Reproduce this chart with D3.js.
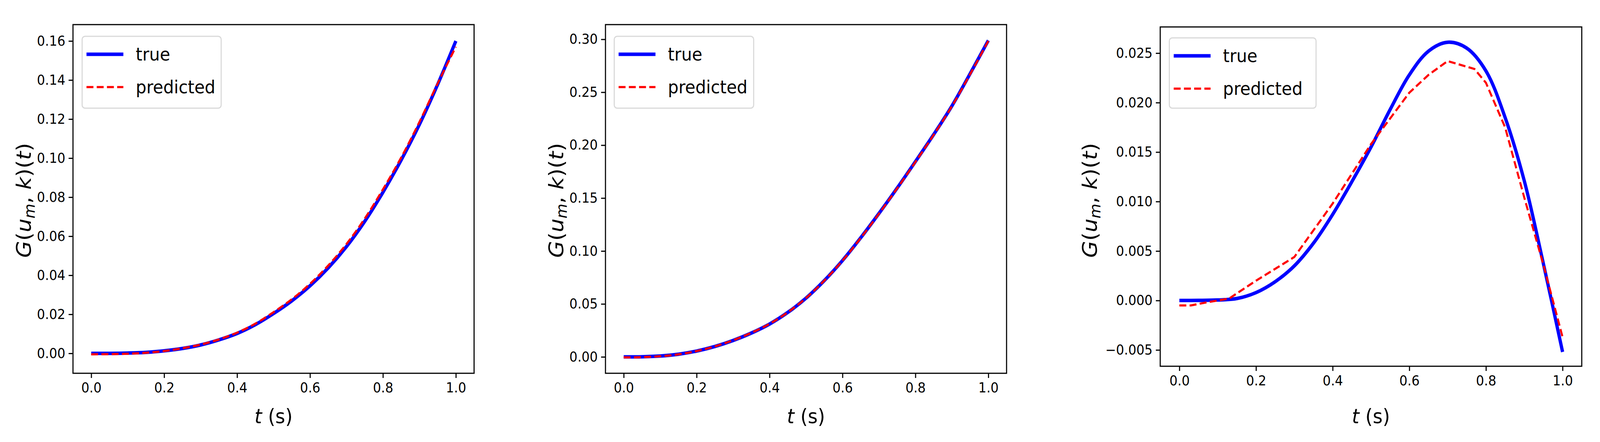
<!DOCTYPE html>
<html><head><meta charset="utf-8">
<script src="https://cdn.jsdelivr.net/npm/d3@7"></script>
<style>html,body{margin:0;padding:0;background:#fff;overflow:hidden}svg{display:block;width:100vw;height:100vh}text{font-family:"DejaVu Sans",sans-serif}</style>
</head><body><svg id="c" viewBox="0 0 4384 1132" preserveAspectRatio="none"></svg>
<script>
const seriesNames = ["true", "predicted"];
const xTicks = [0.0, 0.2, 0.4, 0.6, 0.8, 1.0];
const t = [0,0.05,0.1,0.15,0.2,0.25,0.3,0.35,0.4,0.45,0.5,0.55,0.6,0.65,0.7,0.75,0.8,0.85,0.9,0.95,1.0];

const true1 = [0,0.00002,0.00016,0.0005,0.0013,0.0025,0.0043,0.0069,0.0102,0.0147,0.0204,0.0269,0.0346,0.0438,0.0547,0.0676,0.0825,0.0990,0.1172,0.1377,0.1600];
const pred1 = [-0.0005,-0.0004,-0.0002,0.0003,0.0012,0.0026,0.0045,0.0071,0.0106,0.0152,0.0211,0.0277,0.0356,0.0450,0.0560,0.0690,0.0840,0.1003,0.1185,0.1382,0.1570];
const yTicks1 = [0.00,0.02,0.04,0.06,0.08,0.10,0.12,0.14,0.16];

const true2 = [0,0.0001,0.0008,0.0025,0.0055,0.0098,0.0155,0.0225,0.0310,0.0420,0.0555,0.0720,0.0910,0.1125,0.1355,0.1595,0.1845,0.2100,0.2370,0.2675,0.2990];
const pred2 = [-0.0005,-0.0003,0.0006,0.0024,0.0055,0.0099,0.0157,0.0227,0.0312,0.0421,0.0556,0.0720,0.0909,0.1123,0.1352,0.1592,0.1841,0.2097,0.2367,0.2670,0.2985];
const yTicks2 = [0.00,0.05,0.10,0.15,0.20,0.25,0.30];

const true3 = [0,0.00001,0.00005,0.0002,0.0008,0.0019,0.0035,0.0058,0.0087,0.0120,0.0155,0.0193,0.0228,0.0252,0.0261,0.0255,0.0232,0.0185,0.0121,0.0037,-0.0052];
const tPred3 = [0,0.03,0.07,0.13,0.2,0.3,0.4,0.5,0.6,0.65,0.7,0.77,0.8,0.85,0.9,0.95,1.0];
const pred3 = [-0.0005,-0.0005,-0.0002,0.0002,0.0020,0.0044,0.0098,0.0158,0.0210,0.0228,0.0242,0.0234,0.0220,0.0175,0.0104,0.0036,-0.0037];
const yTicks3 = [-0.005,0.000,0.005,0.010,0.015,0.020,0.025];

const panels = [
  {tt:t, tr:true1, tp:t, pr:pred1, yt:yTicks1, fmt:".2f", x0:200, x1:1299, y0:63, y1:956, xd:[-0.05,1.05], yd:[-0.0102,0.1684], ylx:67, lg:[225,93,606,277], lin:false},
  {tt:t, tr:true2, tp:t, pr:pred2, yt:yTicks2, fmt:".2f", x0:1659, x1:2758, y0:63, y1:956, xd:[-0.05,1.05], yd:[-0.0155,0.3139], ylx:1525, lg:[1683,93,2065,277], lin:false},
  {tt:t, tr:true3, tp:tPred3, pr:pred3, yt:yTicks3, fmt:".3f", x0:3179, x1:4334, y0:69, y1:938, xd:[-0.05,1.05], yd:[(769.6-938)/25340, (769.6-69)/25340], ylx:2987, lg:[3204,97,3606,277], lin:true}
];

const svg = d3.select("#c");
panels.forEach(p => {
  const x = d3.scaleLinear().domain(p.xd).range([p.x0,p.x1]);
  const y = d3.scaleLinear().domain(p.yd).range([p.y1,p.y0]);
  const g = svg.append("g");
  const xa = g.append("g").attr("transform",`translate(0,${p.y1})`)
    .call(d3.axisBottom(x).tickValues(xTicks).tickFormat(d3.format(".1f")).tickSize(12).tickPadding(12));
  const ya = g.append("g").attr("transform",`translate(${p.x0},0)`)
    .call(d3.axisLeft(y).tickValues(p.yt).tickFormat(v => d3.format(p.fmt)(v).replace("-","\u2212")).tickSize(12).tickPadding(9));
  [xa,ya].forEach(a=>{a.select(".domain").remove();a.selectAll("line").attr("stroke","#000").attr("stroke-width",3);
    a.selectAll("text").attr("font-size",35).attr("fill","#000");});
  const line = d3.line().x(d=>x(d[0])).y(d=>y(d[1])).curve(d3.curveCatmullRom);
  g.append("path").datum(p.tt.map((v,i)=>[v,p.tr[i]])).attr("d",line)
    .attr("fill","none").attr("stroke","#0000ff").attr("stroke-width",9);
  const pline = d3.line().x(d=>x(d[0])).y(d=>y(d[1])).curve(p.lin?d3.curveLinear:d3.curveCatmullRom);
  g.append("path").datum(p.tp.map((v,i)=>[v,p.pr[i]])).attr("d",pline)
    .attr("fill","none").attr("stroke","#ff0000").attr("stroke-width",5.5).attr("stroke-dasharray","19,9");
  g.append("rect").attr("x",p.x0).attr("y",p.y0).attr("width",p.x1-p.x0).attr("height",p.y1-p.y0)
    .attr("fill","none").attr("stroke","#000").attr("stroke-width",3);
  const [lx0,ly0,lx1,ly1] = p.lg;
  g.append("rect").attr("x",lx0).attr("y",ly0).attr("width",lx1-lx0).attr("height",ly1-ly0).attr("rx",8)
    .attr("fill","#fff").attr("fill-opacity",0.8).attr("stroke","#d9d9d9").attr("stroke-width",3);
  const ly = [ly0+46, ly0+130];
  g.append("line").attr("x1",lx0+12).attr("x2",lx0+113).attr("y1",ly[0]).attr("y2",ly[0]).attr("stroke","#0000ff").attr("stroke-width",9);
  g.append("line").attr("x1",lx0+12).attr("x2",lx0+113).attr("y1",ly[1]).attr("y2",ly[1]).attr("stroke","#ff0000").attr("stroke-width",5.5).attr("stroke-dasharray","19,9");
  seriesNames.forEach((s,i)=>g.append("text").attr("x",lx0+147).attr("y",ly[i]+16).attr("font-size",46).text(s));
  const xl = g.append("text").attr("x",(x(0)+x(1))/2).attr("y",1084).attr("text-anchor","middle").attr("font-size",52);
  xl.append("tspan").attr("font-style","italic").text("t");
  xl.append("tspan").text(" (s)");
  const yl = g.append("text").attr("transform",`translate(${p.ylx+18},513) rotate(-90)`).attr("text-anchor","middle").attr("font-size",56);
  yl.append("tspan").attr("font-style","italic").text("G");
  yl.append("tspan").text("(");
  yl.append("tspan").attr("font-style","italic").text("u");
  yl.append("tspan").attr("font-style","italic").attr("font-size",39).attr("dy",10).text("m");
  yl.append("tspan").attr("dy",-10).text(", ");
  yl.append("tspan").attr("font-style","italic").text("k");
  yl.append("tspan").text(")(");
  yl.append("tspan").attr("font-style","italic").text("t");
  yl.append("tspan").text(")");
});
</script></body></html>
